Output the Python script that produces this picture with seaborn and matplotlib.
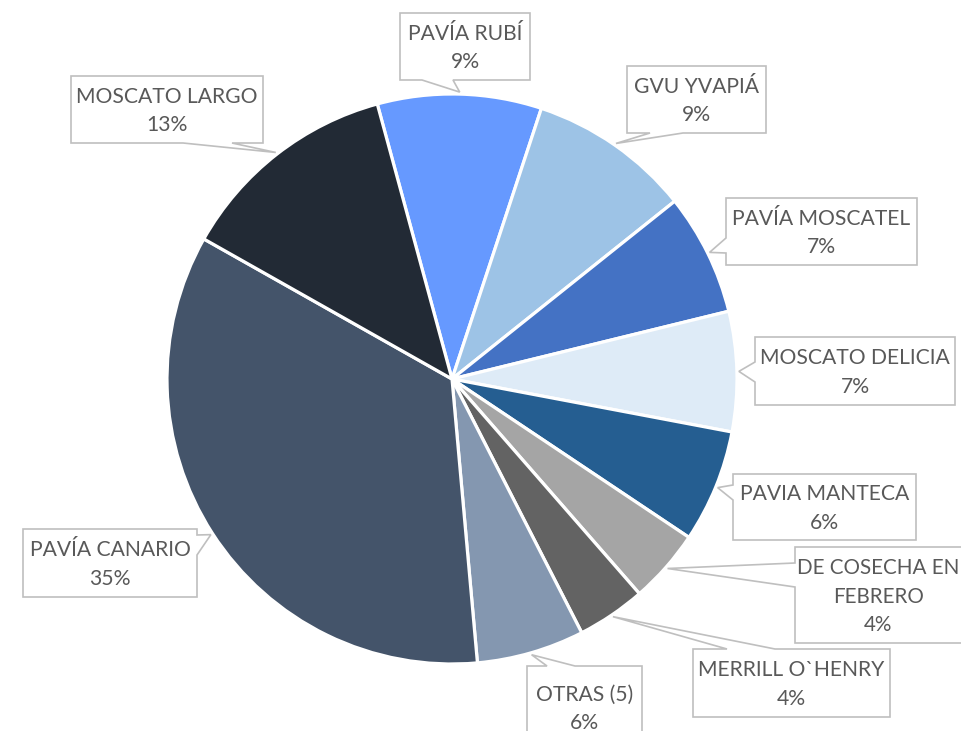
import matplotlib
matplotlib.use("Agg")
import matplotlib.pyplot as plt
from matplotlib.patches import Polygon
import numpy as np
import seaborn as sns

# ---- data ----
varieties = ["PAVÍA RUBÍ", "GVU YVAPIÁ", "PAVÍA MOSCATEL", "MOSCATO DELICIA",
             "PAVIA MANTECA", "DE COSECHA EN\nFEBRERO", "MERRILL O`HENRY",
             "OTRAS (5)", "PAVÍA CANARIO", "MOSCATO LARGO"]
shares = [9.3, 9.2, 6.9, 6.8, 6.4, 4.2, 3.9, 6.1, 34.6, 12.6]
colors = ["#6699FF", "#9DC3E6", "#4472C4", "#DEEBF7", "#255E91",
          "#A5A5A5", "#636363", "#8497B0", "#44546A", "#222A35"]

sns.set_theme(style="white")
plt.rcParams["font.family"] = ["Lato", "DejaVu Sans"]

W, H = 961, 731
fig = plt.figure(figsize=(W / 100, H / 100), dpi=100)
ax = fig.add_axes([0, 0, 1, 1])

cx, cy, R = 452, 379, 285          # pixel layout (y down)
def Y(y):
    return H - y

wedges, _ = ax.pie(shares, colors=colors, startangle=105.2, counterclock=False,
                   center=(cx, Y(cy)), radius=R,
                   wedgeprops=dict(edgecolor="white", linewidth=2.3))
ax.set_xlim(0, W)
ax.set_ylim(0, H)
ax.set_aspect("equal")
ax.axis("off")

# callout layout: box (x0, y0, x1, y1) in px, side of tail, tail base span,
# text x shift, font size
layout = [
    ((400, 13, 530, 80), "bottom", (422, 453), 0, 15.2),
    ((627, 66, 766, 133), "bottom", (650, 683), 0, 15.2),
    ((726, 198, 917, 265), "left", (238, 253), 0, 15.2),
    ((755, 337, 955, 405), "left", (362, 382), 0, 15.2),
    ((733, 474, 916, 540), "left", (485, 500), 0, 15.2),
    ((795, 547, 976, 643), "left", (563, 587), -7, 14.9),
    ((693, 649, 890, 717), "top", (727, 775), 0, 15.2),
    ((527, 666, 642, 748), "top", (547, 575), 0, 15.2),
    ((23, 529, 197, 597), "right", (535, 555), 0, 15.2),
    ((71, 76, 263, 143), "bottom", (183, 232), 0, 15.2),
]

total = sum(shares)
cap = 15.3
spacing = 28.5
for w, name, val, (box, side, (a, b), dx, fs) in zip(wedges, varieties, shares, layout):
    mid = np.deg2rad((w.theta1 + w.theta2) / 2)
    tx = cx + (R + 2) * np.cos(mid)
    ty = cy - (R + 2) * np.sin(mid)
    x0, y0, x1, y1 = box
    if side == "bottom":
        pts = [(x0, y0), (x1, y0), (x1, y1), (b, y1), (tx, ty), (a, y1), (x0, y1)]
    elif side == "top":
        pts = [(x0, y0), (a, y0), (tx, ty), (b, y0), (x1, y0), (x1, y1), (x0, y1)]
    elif side == "left":
        pts = [(x0, y0), (x1, y0), (x1, y1), (x0, y1), (x0, b), (tx, ty), (x0, a)]
    else:
        pts = [(x0, y0), (x1, y0), (x1, a), (tx, ty), (x1, b), (x1, y1), (x0, y1)]
    poly = Polygon([(px, Y(py)) for px, py in pts], closed=True,
                   facecolor="white", edgecolor="#BFBFBF", linewidth=1.2,
                   joinstyle="miter", zorder=5, clip_on=False)
    ax.add_patch(poly)
    lines = name.split("\n") + [f"{round(val / total * 100):d}%"]
    n = len(lines)
    block = cap + (n - 1) * spacing
    first = (y0 + y1) / 2 - block / 2 + cap
    xc = (x0 + x1) / 2 + dx
    for i, ln in enumerate(lines):
        ax.text(xc, Y(first + i * spacing), ln, ha="center", va="baseline",
                fontsize=fs, color="#595959", zorder=6)

fig.savefig("out.png", dpi=100, facecolor="white")
